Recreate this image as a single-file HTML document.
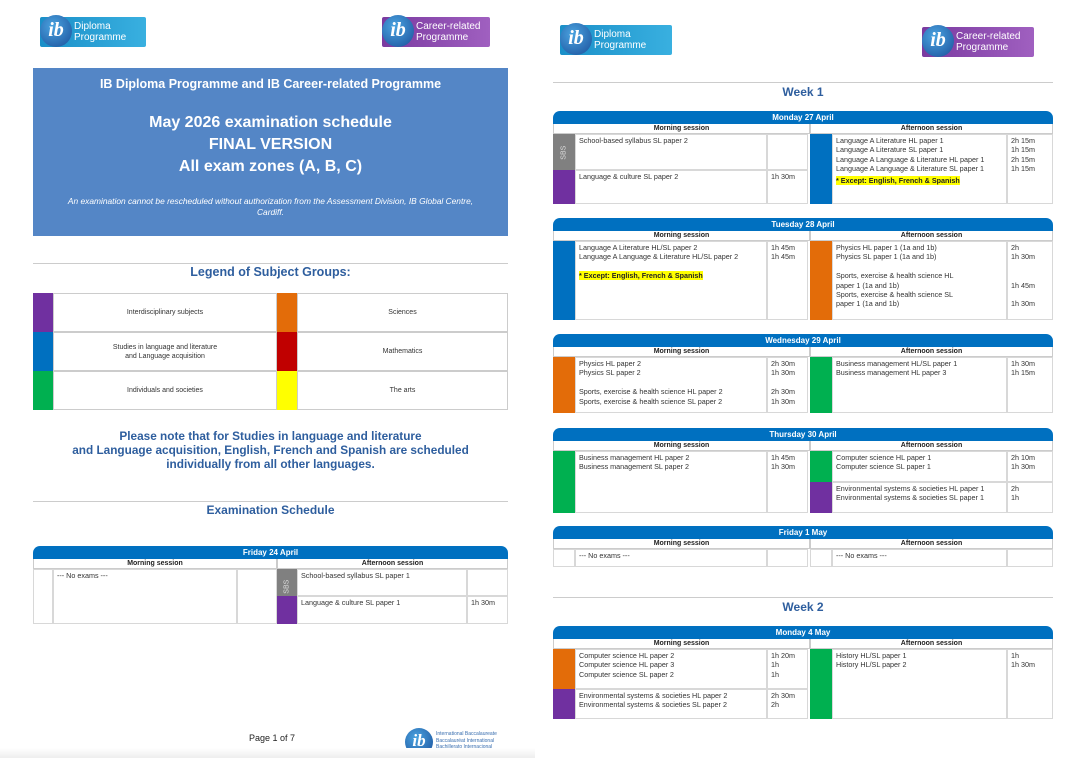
<!DOCTYPE html>
<html><head><meta charset="utf-8"><style>
*{box-sizing:border-box;margin:0;padding:0}
body{width:1080px;height:758px;background:#fff;position:relative;overflow:hidden;font-family:"Liberation Sans",sans-serif;color:#222}
.a{position:absolute}
.logo{position:absolute;height:30px;border-radius:2px;color:#fff;font-size:10px;line-height:11px;padding:4px 0 0 34px}
.ib{position:absolute;left:0;top:-2px;width:32px;height:32px;border-radius:50%;background:radial-gradient(circle at 40% 35%,#4aa3e0,#1a4f9a);color:#fff;font:bold italic 20px "Liberation Serif",serif;text-align:center;line-height:30px}
.hdr{position:absolute;background:#0070c0;color:#fff;font-weight:bold;font-size:8px;text-align:center;line-height:13px;border-radius:7px 7px 0 0;height:13px}
.sub{position:absolute;font-weight:bold;font-size:7px;text-align:center;line-height:10px;height:10px;border:1px solid #ccc;border-top:none;color:#222}
.cell{position:absolute;border:1px solid #d8d8d8;font-size:7.2px;line-height:9.4px;padding:1px 3px;color:#333;white-space:nowrap;overflow:hidden}
.line{position:absolute;height:1px;background:#ccc}
.ttl{position:absolute;font-weight:bold;color:#2e5e9e;text-align:center}
.leg{position:absolute;border:1px solid #ccc;font-size:7px;text-align:center;display:flex;align-items:center;justify-content:center;color:#333;line-height:9px}
</style></head><body>
<!-- left page -->
<div class="logo" style="left:40px;top:17px;width:106px;background:linear-gradient(90deg,#1a8fc8,#39b0e0)"><span class="ib">ib</span>Diploma<br>Programme</div>
<div class="logo" style="left:382px;top:17px;width:108px;background:linear-gradient(90deg,#7a3aa0,#a060c0)"><span class="ib">ib</span>Career-related<br>Programme</div>
<div class="a" style="left:33px;top:68px;width:475px;height:168px;background:#5486c6;color:#fff;text-align:center">
<div style="font-weight:bold;font-size:12.5px;margin-top:9px">IB Diploma Programme and IB Career-related Programme</div>
<div style="font-weight:bold;font-size:16px;margin-top:21px;line-height:22px">May 2026 examination schedule<br>FINAL VERSION<br>All exam zones (A, B, C)</div>
<div style="font-style:italic;font-size:8.4px;margin-top:18px;line-height:11px">An examination cannot be rescheduled without authorization from the Assessment Division, IB Global Centre,<br>Cardiff.</div>
</div>
<div class="line" style="left:33px;top:263px;width:475px"></div>
<div class="ttl" style="left:33px;top:265px;width:475px;font-size:12.5px">Legend of Subject Groups:</div>
<div id="legend"></div>
<div class="ttl" style="left:33px;top:429px;width:475px;font-size:11.8px;line-height:14px">Please note that for Studies in language and literature<br>and Language acquisition, English, French and Spanish are scheduled<br>individually from all other languages.</div>
<div class="line" style="left:33px;top:501px;width:475px"></div>
<div class="ttl" style="left:33px;top:503px;width:475px;font-size:12px">Examination Schedule</div>
<div class="a" style="left:249px;top:733px;font-size:9px">Page 1 of 7</div>
<div class="a" style="left:405px;top:728px;width:100px;height:28px"><span class="ib" style="width:28px;height:28px;line-height:26px;font-size:17px;top:0">ib</span><div style="position:absolute;left:31px;top:3px;font-size:5px;line-height:6.5px;color:#3a6fb0">International Baccalaureate<br>Baccalauréat International<br>Bachillerato Internacional</div></div>
<div class="a" style="left:0;top:748px;width:535px;height:10px;background:linear-gradient(#fff,#eee)"></div>
<!-- right page -->
<div class="logo" style="left:560px;top:25px;width:112px;background:linear-gradient(90deg,#1a8fc8,#39b0e0)"><span class="ib">ib</span>Diploma<br>Programme</div>
<div class="logo" style="left:922px;top:27px;width:112px;background:linear-gradient(90deg,#7a3aa0,#a060c0)"><span class="ib">ib</span>Career-related<br>Programme</div>
<div class="line" style="left:553px;top:82px;width:500px"></div>
<div class="ttl" style="left:553px;top:85px;width:500px;font-size:12px">Week 1</div>
<div class="line" style="left:553px;top:597px;width:500px"></div>
<div class="ttl" style="left:553px;top:600px;width:500px;font-size:12px">Week 2</div>
<div id="blocks"></div>
<script>
const P='#7030a0',B='#0070c0',O='#e36c09',G='#00b050',R='#c00000',Y='#ffff00',S='#808080';
const legendRows=[[P,'Interdisciplinary subjects',O,'Sciences'],[B,'Studies in language and literature<br>and Language acquisition',R,'Mathematics'],[G,'Individuals and societies',Y,'The arts']];
const lg=document.getElementById('legend');
legendRows.forEach((r,i)=>{const y=293+i*39;
 [[33,20,r[0],''],[53,224,null,r[1]],[277,20,r[2],''],[297,211,null,r[3]]].forEach(c=>{
  const d=document.createElement('div');d.className='leg';
  
  
  d.style.cssText=`left:${c[0]}px;top:${y}px;width:${c[1]}px;height:39px;${c[2]?'background:'+c[2]+';border:none':''}`;
  d.innerHTML=c[3];lg.appendChild(d);});});
const EX='<span style="background:#ffff00;font-weight:bold;color:#222">* Except: English, French &amp; Spanish</span>';
function block(x,y,w,title,c,bodyH,left,right){
 const root=document.getElementById('blocks');
 const add=(cls,css,html,name)=>{const d=document.createElement('div');d.className=cls;d.style.cssText=css;if(html)d.innerHTML=html;
  
  
  root.appendChild(d);return d;};
 add('hdr',`left:${x}px;top:${y}px;width:${w}px`,title,'day-header');
 add('sub',`left:${x}px;top:${y+13}px;width:${c[3]-x}px`,'Morning session','morning-header');
 add('sub',`left:${c[3]}px;top:${y+13}px;width:${x+w-c[3]}px`,'Afternoon session','afternoon-header');
 const top=y+23;
 [[left,x,c[0],c[1],c[2]],[right,c[3],c[4],c[5],x+w]].forEach(([rows,a,b,t,e])=>{
  let yy=top;
  rows.forEach(r=>{const h=r.h||bodyH;
   const sw=add('cell',`left:${a}px;top:${yy}px;width:${b-a}px;height:${h}px;${r.c?'background:'+r.c+';border-color:'+r.c:''}`,'','subject-color');
   if(r.sbs){sw.innerHTML='<div style="transform:rotate(-90deg);color:#ddd;font-size:7px;margin-top:12px">SBS</div>';}
   add('cell',`left:${b}px;top:${yy}px;width:${t-b}px;height:${h}px`,r.s.join('<br>'),'exam-subject');
   add('cell',`left:${t}px;top:${yy}px;width:${e-t}px;height:${h}px`,(r.t||[]).join('<br>'),'exam-duration');
   yy+=h;});
 });
}
block(33,546,475,'Friday 24 April',[53,237,277,277,297,467],55,[{s:['--- No exams ---']}],[{c:S,sbs:1,h:27,s:['School-based syllabus SL paper 1']},{c:P,h:28,s:['Language &amp; culture SL paper 1'],t:['1h 30m']}]);
const C=[575,767,808,810,832,1007];
block(553,111,500,'Monday 27 April',C,70,[{c:S,sbs:1,h:36,s:['School-based syllabus SL paper 2']},{c:P,h:34,s:['Language &amp; culture SL paper 2'],t:['1h 30m']}],
 [{c:B,s:['Language A Literature HL paper 1','Language A Literature SL paper 1','Language A Language &amp; Literature HL paper 1','Language A Language &amp; Literature SL paper 1','<span style="line-height:14px">'+EX+'</span>'],t:['2h 15m','1h 15m','2h 15m','1h 15m']}]);
block(553,218,500,'Tuesday 28 April',C,79,[{c:B,s:['Language A Literature HL/SL paper 2','Language A Language &amp; Literature HL/SL paper 2','',EX],t:['1h 45m','1h 45m']}],
 [{c:O,s:['Physics HL paper 1 (1a and 1b)','Physics SL paper 1 (1a and 1b)','','Sports, exercise &amp; health science HL','paper 1 (1a and 1b)','Sports, exercise &amp; health science SL','paper 1 (1a and 1b)'],t:['2h','1h 30m','','','1h 45m','','1h 30m']}]);
block(553,334,500,'Wednesday 29 April',C,56,[{c:O,s:['Physics HL paper 2','Physics SL paper 2','','Sports, exercise &amp; health science HL paper 2','Sports, exercise &amp; health science SL paper 2'],t:['2h 30m','1h 30m','','2h 30m','1h 30m']}],
 [{c:G,s:['Business management HL/SL paper 1','Business management HL paper 3'],t:['1h 30m','1h 15m']}]);
block(553,428,500,'Thursday 30 April',C,62,[{c:G,s:['Business management HL paper 2','Business management SL paper 2'],t:['1h 45m','1h 30m']}],
 [{c:G,h:31,s:['Computer science HL paper 1','Computer science SL paper 1'],t:['2h 10m','1h 30m']},{c:P,h:31,s:['Environmental systems &amp; societies HL paper 1','Environmental systems &amp; societies SL paper 1'],t:['2h','1h']}]);
block(553,526,500,'Friday 1 May',C,18,[{s:['--- No exams ---']}],[{s:['--- No exams ---']}]);
block(553,626,500,'Monday 4 May',C,70,[{c:O,h:40,s:['Computer science HL paper 2','Computer science HL paper 3','Computer science SL paper 2'],t:['1h 20m','1h','1h']},{c:P,h:30,s:['Environmental systems &amp; societies HL paper 2','Environmental systems &amp; societies SL paper 2'],t:['2h 30m','2h']}],
 [{c:G,s:['History HL/SL paper 1','History HL/SL paper 2'],t:['1h','1h 30m']}]);
</script>
</body></html>
